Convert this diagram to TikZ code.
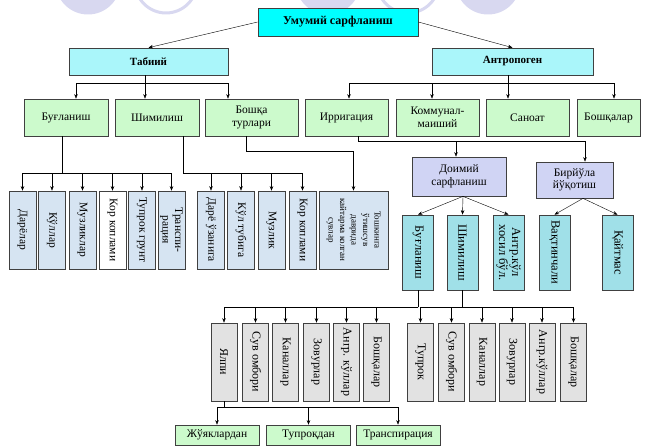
\documentclass[tikz,border=0pt]{standalone}
\usepackage{fontspec}
\setmainfont{Liberation Serif}
\usetikzlibrary{arrows.meta}
\definecolor{lav}{RGB}{216,216,240}
\definecolor{topc}{RGB}{0,255,255}
\definecolor{lcyan}{RGB}{170,246,250}
\definecolor{grn}{RGB}{204,250,204}
\definecolor{blu}{RGB}{214,228,242}
\definecolor{peri}{RGB}{208,212,244}
\definecolor{teal}{RGB}{160,224,232}
\definecolor{marble}{RGB}{226,226,226}
\begin{document}
\begin{tikzpicture}[x=1pt,y=-1pt,>={Stealth[length=4.5pt,width=3.5pt]},
	box/.style={draw=black!75,line width=0.7pt,inner sep=1pt,align=center,
		font=\fontsize{11.5}{12.5}\selectfont},
	hbox/.style={box,fill=grn,minimum width=84,minimum height=37},
	vbox/.style={box,rotate=-90,fill=blu,minimum width=78,minimum height=27},
	cbox/.style={box,rotate=-90,fill=teal,minimum width=75,minimum height=31,
		font=\fontsize{12.5}{13}\selectfont},
	sbox/.style={box,rotate=-90,fill=marble,minimum width=78,minimum height=26,
		font=\fontsize{12}{13}\selectfont}]
	\path[use as bounding box,clip] (0,0) rectangle (646,446);
	\foreach \x/\c in {88/lav,166/white,328/lav,408/white,488/lav}
	\draw[lav,line width=3pt,fill=\c] (\x,-18) circle (31);
	
	\node[box,fill=topc,minimum width=160,minimum height=28,
		font=\bfseries\fontsize{12}{14}\selectfont] (U) at (338,22) {Умумий сарфланиш};
	\node[box,fill=lcyan,minimum width=159,minimum height=27,
		font=\bfseries\fontsize{11}{13}\selectfont] (T) at (148.5,61.5) {Табиий};
	\node[box,fill=lcyan,minimum width=161,minimum height=27,
		font=\bfseries\fontsize{11}{13}\selectfont] (A) at (512.5,61.5) {Антропоген};
	\draw[->] (U.west) -- (T.north);
	\draw[->] (U.east) -- (A.north);
	
	\foreach \n/\x/\w/\t in {b1/66/84/Буғланиш,b2/157/84/Шимилиш,
		b3/251.5/93/{Бошқа\\турлари},c1/346.5/83/Ирригация,
		c2/437.5/83/{Коммунал-\\маиший},c3/527.5/83/Саноат,c4/608.5/63/Бошқалар}
	\node[hbox,minimum width=\w] (\n) at (\x,117.5) {\t};
	
	\draw[->] ([xshift=-3.5]T.south) -- ([xshift=-12]b2.north);
	\path ([xshift=-3.5]T.south) ++(0,8) coordinate (t);
	\draw[->] (t) -| ([xshift=10]b1.north);
	\draw[->] (t) -| ([xshift=-23.5]b3.north);
	\draw[->] ([xshift=-4.5]A.south) -- ([xshift=-19.5]c3.north);
	\path ([xshift=-4.5]A.south) ++(0,8) coordinate (a);
	\foreach \n/\s in {c1/2.5,c2/-5.5,c4/5.5}
	\draw[->] (a) -| ([xshift=\s]\n.north);
	
	\foreach \n/\x/\c/\t in {d1/22.5/blu/Дарёлар,d2/52/blu/Кўллар,
		d3/82.5/blu/Музликлар,d4/112.5/white/{Кор коплами},
		d5/142/blu/{Тупрок грунт},d6/171.5/blu/{Транспи-\\рация}}
	\node[vbox,fill=\c] (\n) at (\x,230) {\t};
	\draw ([xshift=-4]b1.south) -- ++(0,37) coordinate (d);
	\foreach \i in {1,...,6}
	\draw[->] (d) -| (d\i);
	
	\foreach \n/\x/\t in {e1/211/{Дарё ўзанига},e2/241/{Кўл тубига},
		e3/271.5/Музлик,e4/302.5/{Кор коплами}}
	\node[vbox] (\n) at (\x,230) {\t};
	\draw ([xshift=26]b2.south) -- ++(0,37) coordinate (e);
	\foreach \i in {1,...,4}
	\draw[->] (e) -| (e\i);
	
	\node[vbox,minimum height=69,font=\fontsize{9}{11.5}\selectfont] (f) at (353.5,230)
		{Тошкинга\\ўтишсув\\даврида\\кайтарма колган\\сувлар};
	\draw[->] ([xshift=-5.5]b3.south) -- ++(0,15) -| (f);
	
	\node[box,fill=peri,minimum width=94,minimum height=39] (g1) at (459,176.5)
		{Доимий\\сарфланиш};
	\node[box,fill=peri,minimum width=77,minimum height=36] (g2) at (574.5,180)
		{Бирйўла\\йўқотиш};
	\draw ([xshift=11.5]c1.south) -- ++(0,5) coordinate (c);
	\draw[->] (c) -| ([xshift=-3]g1.north);
	\draw[->] (c) -| ([xshift=10.5]g2.north);
	
	\foreach \n/\x/\t in {h1/418/Буғланиш,h2/462.5/Шимилиш,
		h3/508.5/{Антр.кўл\\хосил бўл.},k1/554.5/Вақтинчали,k2/617.5/Қайтмас}
	\node[cbox] (\n) at (\x,252.5) {\t};
	\foreach \n in {h1,h2,h3}
	\draw[->] ([xshift=4]g1.south) -- (\n.west);
	\foreach \n in {k1,k2}
	\draw[->] ([xshift=8.5]g2.south) -- (\n.west);
	
	\foreach \n/\x/\t in {m1/224/Ялпи,m2/255.5/{Сув омбори},m3/285.5/Каналлар,
		m4/316.5/Зовурлар,m5/346.5/{Ангр. кўллар},m6/376.5/Бошқалар}
	\node[sbox] (\n) at (\x,362) {\t};
	\draw (h1.east) -- ++(0,17) coordinate (m);
	\foreach \i in {1,...,6}
	\draw[->] (m) -| (m\i);
	
	\foreach \n/\x/\t in {n1/420.5/Тупрок,n2/451.5/{Сув омбори},n3/482/Каналлар,
		n4/512/Зовурлар,n5/542/{Ангр.кўллар},n6/573.5/Бошқалар}
	\node[sbox] (\n) at (\x,362) {\t};
	\draw (h2.east) -- ++(0,17) coordinate (n);
	\foreach \i in {1,...,6}
	\draw[->] (n) -| (n\i);
	
	\foreach \n/\x/\t in {p1/217/Жўяклардан,p2/308.5/Тупроқдан,p3/398/Транспирация}
	\node[box,fill=grn,minimum width=84,minimum height=20] (\n) at (\x,435) {\t};
	\draw (m1.east) -- ++(0,6) coordinate (p);
	\foreach \i in {1,2,3}
	\draw[->] (p) -| (p\i);
	
\end{tikzpicture}
\end{document}
